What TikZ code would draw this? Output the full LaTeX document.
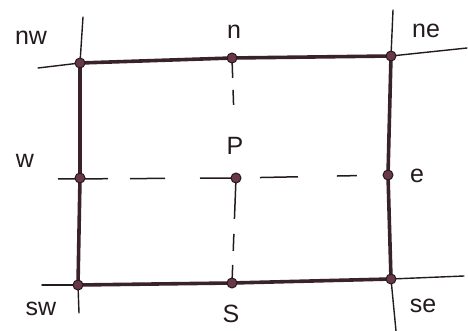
\documentclass[tikz,border=0pt]{standalone}
\usepackage{fontspec}
\setmainfont{Liberation Sans}
\definecolor{linec}{RGB}{35,26,30}
\definecolor{edgec}{RGB}{58,34,42}
\definecolor{dotc}{RGB}{105,55,72}
\pgfdeclarelayer{bg}
\pgfsetlayers{bg,main}
\begin{document}
\begin{tikzpicture}[x=1pt,y=-1pt,
  dotnode/.style={circle,fill=dotc,draw=linec,line width=1pt,inner sep=0pt,minimum size=10pt},
  edge/.style={draw=edgec,line width=3.6pt,line cap=round},
  ext/.style={draw=linec,line width=1.4pt,line cap=round},
  dashline/.style={draw=linec,line width=1.5pt},
  lbl/.style={font=\fontsize{25}{27}\selectfont,text=linec,inner sep=0pt}]
\useasboundingbox (0,0) rectangle (468,331);
% points
\node[dotnode] (nw) at (80,63) {};
\node[dotnode] (n)  at (232,58) {};
\node[dotnode] (ne) at (391,56) {};
\node[dotnode] (w)  at (80,178) {};
\node[dotnode] (p)  at (236,178) {};
\node[dotnode] (e)  at (388,175) {};
\node[dotnode] (sw) at (78,285) {};
\node[dotnode] (s)  at (232,283) {};
\node[dotnode] (se) at (391,279) {};
% free ends
\coordinate (tl) at (38,68);
\coordinate (tr) at (467,48);
\coordinate (lt) at (83,17);
\coordinate (lb) at (79,313);
\coordinate (rt) at (393,10);
\coordinate (rb) at (396,331);
\coordinate (bl) at (42,285);
\coordinate (br) at (464,276);
\coordinate (dl) at (58,179);
\begin{pgfonlayer}{bg}
  \draw[ext] (tl) -- (nw.center);
  \draw[ext] (ne.center) -- (tr);
  \draw[ext] (lt) -- (nw.center);
  \draw[ext] (sw.center) -- (lb);
  \draw[ext] (rt) -- (ne.center);
  \draw[ext] (se.center) -- (rb);
  \draw[ext] (bl) -- (sw.center);
  \draw[ext] (se.center) -- (br);
  \draw[edge] (nw.center) -- (n.center) -- (ne.center);
  \draw[edge] (ne.center) -- (e.center) -- (se.center);
  \draw[edge] (se.center) -- (s.center) -- (sw.center);
  \draw[edge] (sw.center) -- (w.center) -- (nw.center);
  \draw[dashline,dash pattern=on 50pt off 22pt on 35pt off 35pt on 40pt] (dl) -- (p.center);
  \draw[dashline,dash pattern=on 0pt off 24pt on 38pt off 39pt on 20pt off 40pt] (p.center) -- (e.center);
  \draw[dashline,dash pattern=on 20pt off 12pt on 15pt off 80pt] (n.center) -- (p.center);
  \draw[dashline,dash pattern=on 41pt off 15pt on 17pt off 14pt on 20pt] (p.center) -- (s.center);
\end{pgfonlayer}
% labels
\node[lbl] (lnw) at (31,38) {nw};
\node[lbl] (ln)  at (234,32) {n};
\node[lbl] (lne) at (426,31) {ne};
\node[lbl] (lw)  at (25,161) {w};
\node[lbl] (lp)  at (235,146) {P};
\node[lbl] (le)  at (417,176) {e};
\node[lbl] (lsw) at (41,309) {sw};
\node[lbl] (ls)  at (231,314) {S};
\node[lbl] (lse) at (423,306) {se};
\end{tikzpicture}
\end{document}
